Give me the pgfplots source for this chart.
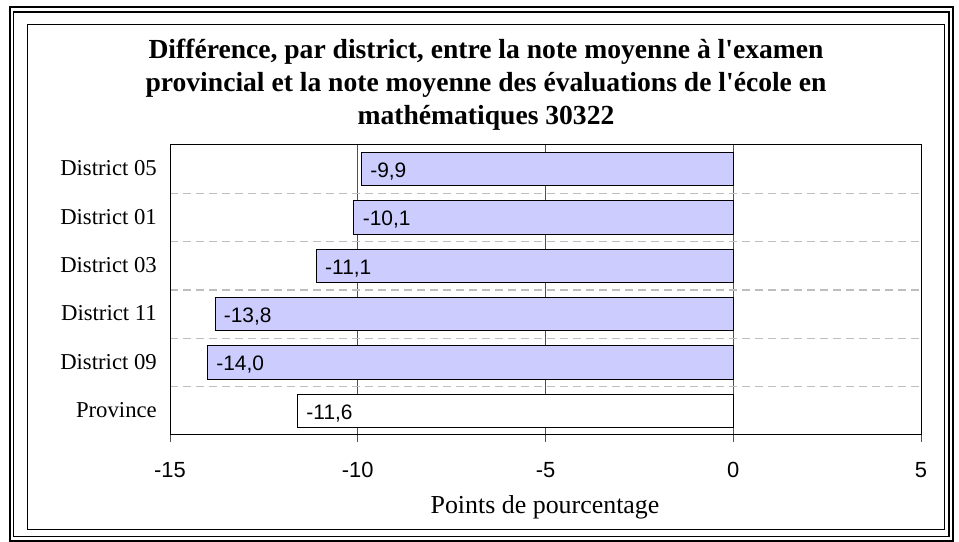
\documentclass[border=0pt]{standalone}
\usepackage{fontspec}
\setmainfont{Liberation Serif}
\newfontfamily\arial{Liberation Sans}
\usepackage{pgfplots}
\pgfplotsset{compat=1.18}
\definecolor{barfill}{RGB}{204,204,255}
\definecolor{gridv}{RGB}{80,80,80}
\definecolor{gridh}{RGB}{190,190,190}
\begin{document}
\begin{tikzpicture}
\useasboundingbox (0bp,0bp) rectangle (959bp,542bp);
\draw[line width=2.2bp] (10bp,535bp) rectangle (953bp,0.8bp);
\draw[line width=1.3bp] (13.3bp,530bp) rectangle (949bp,5.3bp);
\draw[line width=1.3bp] (27.5bp,517.3bp) rectangle (944.3bp,12.7bp);
\node[anchor=base, inner sep=0pt, font=\bfseries\fontsize{27.7}{33.4}\selectfont] at (486bp,483.7bp) {Différence, par district, entre la note moyenne à l\textquotesingle examen};
\node[anchor=base, inner sep=0pt, font=\bfseries\fontsize{27.7}{33.4}\selectfont] at (486bp,450.3bp) {provincial et la note moyenne des évaluations de l\textquotesingle école en};
\node[anchor=base, inner sep=0pt, font=\bfseries\fontsize{27.7}{33.4}\selectfont] at (486bp,417bp) {mathématiques 30322};
\begin{axis}[
  at={(170bp,107bp)}, anchor=south west,
  scale only axis, width=751bp, height=290bp,
  xmin=-15, xmax=5, ymin=-0.5, ymax=5.5,
  xbar, bar width=0.683,
  xtick={-15,-10,-5,0,5},
  xticklabels={-15,-10,-5,0,5},
  ytick={0,1,2,3,4,5},
  yticklabels={Province,District 09,District 11,District 03,District 01,District 05},
  minor ytick={0.5,1.5,2.5,3.5,4.5},
  xmajorgrids, yminorgrids,
  major grid style={gridv, line width=0.8bp},
  minor grid style={gridh, line width=1.2bp, dash pattern=on 8bp off 5bp},
  tick align=outside, tick pos=left,
  major tick length=7bp, minor tick length=0pt,
  ytick style={draw=none},
  xtick style={gridv, line width=0.8bp},
  axis line style={black, line width=1bp},
  xticklabel style={font=\arial\fontsize{22}{26}\selectfont, anchor=base, inner sep=0pt, yshift=-36bp},
  yticklabel style={font=\fontsize{22.8}{27}\selectfont, anchor=base east, inner sep=0pt, xshift=-6bp, yshift=-6.8bp},
  nodes near coords,
  point meta=explicit symbolic,
  every node near coord/.append style={font=\arial\fontsize{21}{25}\selectfont, anchor=west, inner sep=0pt, xshift=8.3bp, yshift=-1bp, text height=15bp, text depth=0pt, black},
]
\addplot[bar shift=0pt, fill=barfill, draw=black, line width=1bp] coordinates {
  (-9.9,5) [-9,9]
  (-10.1,4) [-10,1]
  (-11.1,3) [-11,1]
  (-13.8,2) [-13,8]
  (-14.0,1) [-14,0]
};
\addplot[bar shift=0pt, fill=white, draw=black, line width=1bp] coordinates {
  (-11.6,0) [-11,6]
};
\end{axis}
\node[anchor=base, inner sep=0pt, font=\fontsize{26}{30}\selectfont] at (545bp,28.7bp) {Points de pourcentage};
\end{tikzpicture}
\end{document}
